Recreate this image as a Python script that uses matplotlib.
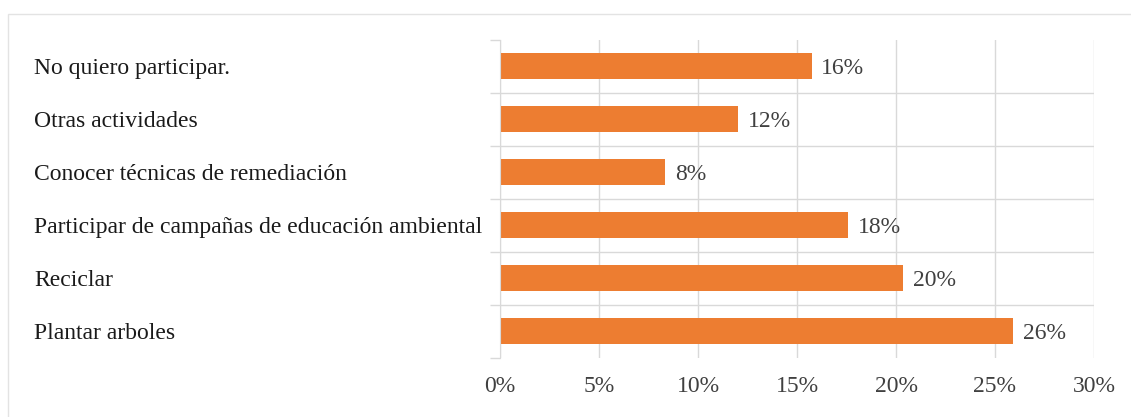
import matplotlib
matplotlib.use("Agg")
from matplotlib import pyplot as plt
from matplotlib.patches import Rectangle
from matplotlib.ticker import FixedLocator, FuncFormatter

# answers, listed top to bottom as they appear on the chart
categories = [
    "No quiero participar.",
    "Otras actividades",
    "Conocer técnicas de remediación",
    "Participar de campañas de educación ambiental",
    "Reciclar",
    "Plantar arboles",
]
shares = [15.74, 12.04, 8.33, 17.59, 20.37, 25.93]
x_ticks = [0, 5, 10, 15, 20, 25, 30]

BAR = "#ED7D31"
GRID = "#D9D9D9"
FONT = "Liberation Serif"
SIZE = 17

fig = plt.figure(figsize=(11.31, 4.17), dpi=100)
W, H = 1131, 417

# light frame round the chart area
fig.patches.append(Rectangle((8 / W, -0.1), 1.2, 1 - 14 / H + 0.1, transform=fig.transFigure,
                             fill=False, edgecolor="#E3E3E3", linewidth=1.0))

ax = fig.add_axes([500 / W, 1 - 357.5 / H, 594 / W, 318 / H])

ypos = list(range(len(categories)))
ax.barh(ypos, shares, height=0.5, color=BAR, zorder=3)

for y, v in zip(ypos, shares):
    ax.annotate(f"{v:.0f}%", xy=(v, y), xytext=(7, 0), textcoords="offset points",
                va="center_baseline", ha="left", fontsize=SIZE, family=FONT, color="#404040")

ax.set_xlim(0, 30)
ax.set_ylim(len(categories) - 0.5, -0.5)

ax.set_xticks(x_ticks)
ax.xaxis.set_major_formatter(FuncFormatter(lambda v, _: f"{v:.0f}%"))
ax.tick_params(axis="x", length=0, pad=13, labelsize=SIZE, labelcolor="#404040")
ax.grid(axis="x", color=GRID, linewidth=1.0, zorder=0)

ax.set_yticks(ypos)
ax.set_yticklabels(categories, fontsize=SIZE, family=FONT, color="#1a1a1a")
for lab in ax.get_yticklabels():
    lab.set_horizontalalignment("left")
    lab.set_verticalalignment("center_baseline")
ax.tick_params(axis="y", which="major", length=0, pad=(500 - 34) * 0.72)

# category boundaries: short ticks left of the axis, lines between rows
bounds = [i + 0.5 for i in range(-1, len(categories))]
ax.yaxis.set_minor_locator(FixedLocator(bounds))
ax.tick_params(axis="y", which="minor", length=7, width=1.0, color=GRID)
ax.hlines(bounds[1:-1], 0, 30, color=GRID, linewidth=1.0, zorder=1)

for lab in ax.get_xticklabels():
    lab.set_family(FONT)

for side in ("top", "right", "bottom"):
    ax.spines[side].set_visible(False)
ax.spines["left"].set_color(GRID)
ax.spines["left"].set_zorder(4)

fig.savefig("out.png", dpi=100)
